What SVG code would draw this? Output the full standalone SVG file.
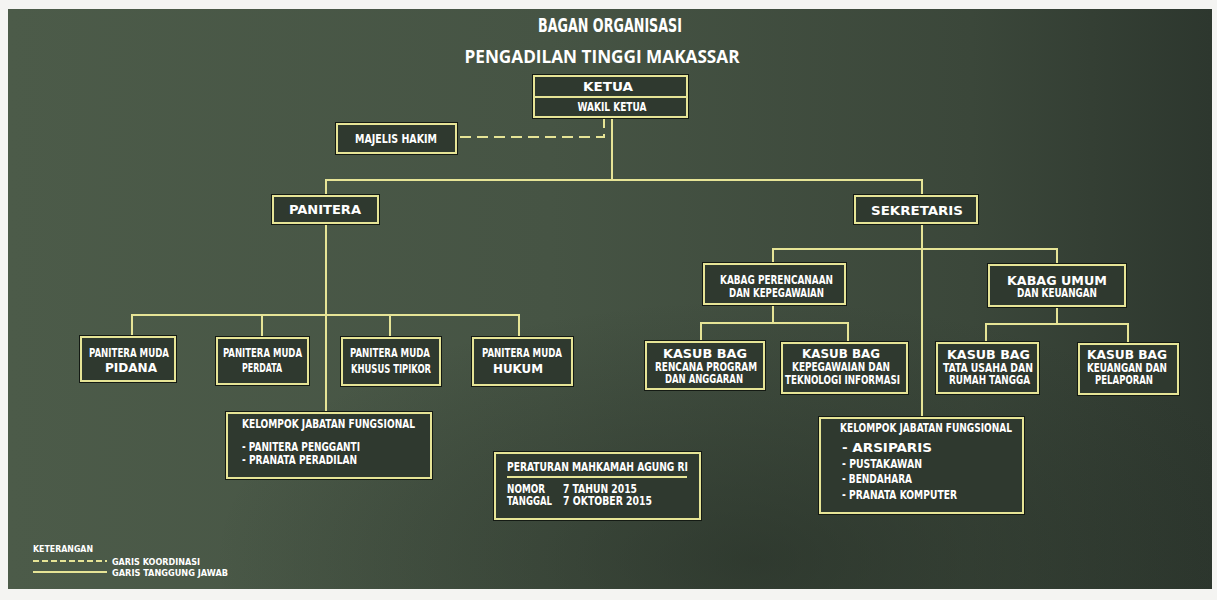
<svg xmlns="http://www.w3.org/2000/svg" width="1217" height="600" viewBox="0 0 1217 600">
<defs>
<linearGradient id="bg" x1="0" y1="0" x2="1" y2="0">
<stop offset="0" stop-color="#4c5b49"/>
<stop offset="0.45" stop-color="#465444"/>
<stop offset="0.8" stop-color="#3b473a"/>
<stop offset="1" stop-color="#2d372e"/>
</linearGradient>
<radialGradient id="shade" cx="0.62" cy="0.95" r="0.45">
<stop offset="0" stop-color="#1e261f" stop-opacity="0.5"/>
<stop offset="1" stop-color="#1e261f" stop-opacity="0"/>
</radialGradient>
<style>
.box{fill:#2f392f;stroke:#e6e496;stroke-width:2}
.sh{fill:none;stroke:#141a14;stroke-width:4}
.ln{fill:none;stroke:#e6e496;stroke-width:2}
.dash{stroke-dasharray:11 6}
.t{fill:#ffffff;font-family:"Liberation Sans Narrow","DejaVu Sans Condensed","Liberation Sans",sans-serif;font-weight:bold;font-size:12px;text-anchor:middle}
.l{text-anchor:start}
.h1{fill:#ffffff;font-family:"Liberation Sans Narrow","DejaVu Sans Condensed","Liberation Sans",sans-serif;font-weight:bold;font-size:19px;text-anchor:middle}
.h2{fill:#ffffff;font-family:"Open Sans","Liberation Sans",sans-serif;font-weight:bold;font-size:18px;text-anchor:middle}
.s{font-size:9px}
</style>
</defs>
<rect x="0" y="0" width="1217" height="600" fill="#f4f4f2"/>
<rect x="8" y="9" width="1204" height="580" fill="url(#bg)"/>
<rect x="8" y="9" width="1204" height="580" fill="url(#shade)"/>

<text class="h1" x="610" y="32" textLength="144" lengthAdjust="spacingAndGlyphs">BAGAN ORGANISASI</text>
<text class="h2" x="602" y="63" textLength="275" lengthAdjust="spacingAndGlyphs">PENGADILAN TINGGI MAKASSAR</text>

<g id="connectors">
<path class="ln dash" d="M604 117 V137 H456"/>
<path class="ln" d="M612 117 V180"/>
<path class="ln" d="M326 196 V180 H922 V196"/>
<path class="ln" d="M326 223 V413"/>
<path class="ln" d="M132 337 V315 H519 V338"/>
<path class="ln" d="M262 315 V338"/>
<path class="ln" d="M390 315 V338"/>
<path class="ln" d="M922 223 V418"/>
<path class="ln" d="M773 264 V249 H1057 V265"/>
<path class="ln" d="M773 304 V323"/>
<path class="ln" d="M701 342 V323 H848 V343"/>
<path class="ln" d="M1057 306 V324"/>
<path class="ln" d="M986 343 V324 H1128 V344"/>
</g>

<g id="ketua">
<rect class="sh" x="534" y="76" width="153" height="41"/>
<rect class="box" x="534" y="76" width="153" height="41"/>
<line class="ln" x1="534" y1="97" x2="687" y2="97"/>
<text class="t" x="608" y="91" textLength="50" lengthAdjust="spacingAndGlyphs">KETUA</text>
<text class="t" x="612" y="111" textLength="69" lengthAdjust="spacingAndGlyphs">WAKIL KETUA</text>
</g>

<g id="majelis-hakim">
<rect class="sh" x="337" y="124" width="119" height="29"/>
<rect class="box" x="337" y="124" width="119" height="29"/>
<text class="t" x="396" y="143" textLength="82" lengthAdjust="spacingAndGlyphs">MAJELIS HAKIM</text>
</g>

<g id="panitera">
<rect class="sh" x="273" y="196" width="105" height="27"/>
<rect class="box" x="273" y="196" width="105" height="27"/>
<text class="t" x="325" y="214" textLength="72" lengthAdjust="spacingAndGlyphs">PANITERA</text>
</g>

<g id="sekretaris">
<rect class="sh" x="855" y="196" width="122" height="27"/>
<rect class="box" x="855" y="196" width="122" height="27"/>
<text class="t" x="917" y="215" textLength="92" lengthAdjust="spacingAndGlyphs">SEKRETARIS</text>
</g>

<g id="pm-pidana">
<rect class="sh" x="81" y="337" width="94" height="44"/>
<rect class="box" x="81" y="337" width="94" height="44"/>
<text class="t" x="129" y="357" textLength="80" lengthAdjust="spacingAndGlyphs">PANITERA MUDA</text>
<text class="t" x="131" y="372" textLength="52" lengthAdjust="spacingAndGlyphs">PIDANA</text>
</g>

<g id="pm-perdata">
<rect class="sh" x="217" y="338" width="91" height="46"/>
<rect class="box" x="217" y="338" width="91" height="46"/>
<text class="t" x="262.5" y="357" textLength="79" lengthAdjust="spacingAndGlyphs">PANITERA MUDA</text>
<text class="t" x="262" y="372" textLength="40" lengthAdjust="spacingAndGlyphs">PERDATA</text>
</g>

<g id="pm-tipikor">
<rect class="sh" x="342" y="338" width="98" height="47"/>
<rect class="box" x="342" y="338" width="98" height="47"/>
<text class="t" x="390" y="357" textLength="80" lengthAdjust="spacingAndGlyphs">PANITERA MUDA</text>
<text class="t" x="391" y="373" textLength="80" lengthAdjust="spacingAndGlyphs">KHUSUS TIPIKOR</text>
</g>

<g id="pm-hukum">
<rect class="sh" x="473" y="338" width="99" height="47"/>
<rect class="box" x="473" y="338" width="99" height="47"/>
<text class="t" x="522" y="357" textLength="80" lengthAdjust="spacingAndGlyphs">PANITERA MUDA</text>
<text class="t" x="518" y="373" textLength="50" lengthAdjust="spacingAndGlyphs">HUKUM</text>
</g>

<g id="kelompok-panitera">
<rect class="sh" x="227" y="413" width="204" height="65"/>
<rect class="box" x="227" y="413" width="204" height="65"/>
<text class="t l" x="242" y="428" textLength="173" lengthAdjust="spacingAndGlyphs">KELOMPOK JABATAN FUNGSIONAL</text>
<text class="t l" x="242" y="451" textLength="118" lengthAdjust="spacingAndGlyphs">- PANITERA PENGGANTI</text>
<text class="t l" x="242" y="464" textLength="115" lengthAdjust="spacingAndGlyphs">- PRANATA PERADILAN</text>
</g>

<g id="peraturan">
<rect class="sh" x="495" y="453" width="205" height="66"/>
<rect class="box" x="495" y="453" width="205" height="66"/>
<text class="t l" x="507" y="471" textLength="181" lengthAdjust="spacingAndGlyphs">PERATURAN MAHKAMAH AGUNG RI</text>
<line class="ln" x1="507" y1="477" x2="687" y2="477"/>
<text class="t l" x="507" y="493" textLength="38" lengthAdjust="spacingAndGlyphs">NOMOR</text>
<text class="t l" x="563" y="493" textLength="74" lengthAdjust="spacingAndGlyphs">7 TAHUN 2015</text>
<text class="t l" x="507" y="505" textLength="45" lengthAdjust="spacingAndGlyphs">TANGGAL</text>
<text class="t l" x="563" y="505" textLength="89" lengthAdjust="spacingAndGlyphs">7 OKTOBER 2015</text>
</g>

<g id="kabag-perencanaan">
<rect class="sh" x="704" y="264" width="141" height="40"/>
<rect class="box" x="704" y="264" width="141" height="40"/>
<text class="t" x="776.5" y="284" textLength="113" lengthAdjust="spacingAndGlyphs">KABAG PERENCANAAN</text>
<text class="t" x="776.5" y="297" textLength="95" lengthAdjust="spacingAndGlyphs">DAN KEPEGAWAIAN</text>
</g>

<g id="kasubbag-rencana">
<rect class="sh" x="646" y="342" width="118" height="47"/>
<rect class="box" x="646" y="342" width="118" height="47"/>
<text class="t" x="705" y="358" textLength="84" lengthAdjust="spacingAndGlyphs">KASUB BAG</text>
<text class="t" x="706" y="371" textLength="102" lengthAdjust="spacingAndGlyphs">RENCANA PROGRAM</text>
<text class="t" x="704" y="383" textLength="78" lengthAdjust="spacingAndGlyphs">DAN ANGGARAN</text>
</g>

<g id="kasubbag-kepegawaian">
<rect class="sh" x="782" y="343" width="125" height="50"/>
<rect class="box" x="782" y="343" width="125" height="50"/>
<text class="t" x="841" y="358" textLength="78" lengthAdjust="spacingAndGlyphs">KASUB BAG</text>
<text class="t" x="841" y="371" textLength="98" lengthAdjust="spacingAndGlyphs">KEPEGAWAIAN DAN</text>
<text class="t" x="842.5" y="384" textLength="115" lengthAdjust="spacingAndGlyphs">TEKNOLOGI INFORMASI</text>
</g>

<g id="kabag-umum">
<rect class="sh" x="989" y="265" width="136" height="41"/>
<rect class="box" x="989" y="265" width="136" height="41"/>
<text class="t" x="1057" y="285" textLength="100" lengthAdjust="spacingAndGlyphs">KABAG UMUM</text>
<text class="t" x="1057" y="297" textLength="80" lengthAdjust="spacingAndGlyphs">DAN KEUANGAN</text>
</g>

<g id="kasubbag-tu">
<rect class="sh" x="937" y="343" width="101" height="50"/>
<rect class="box" x="937" y="343" width="101" height="50"/>
<text class="t" x="988.5" y="359" textLength="83" lengthAdjust="spacingAndGlyphs">KASUB BAG</text>
<text class="t" x="988" y="372" textLength="90" lengthAdjust="spacingAndGlyphs">TATA USAHA DAN</text>
<text class="t" x="989.5" y="384" textLength="81" lengthAdjust="spacingAndGlyphs">RUMAH TANGGA</text>
</g>

<g id="kasubbag-keuangan">
<rect class="sh" x="1079" y="344" width="99" height="50"/>
<rect class="box" x="1079" y="344" width="99" height="50"/>
<text class="t" x="1127" y="359" textLength="80" lengthAdjust="spacingAndGlyphs">KASUB BAG</text>
<text class="t" x="1127" y="372" textLength="80" lengthAdjust="spacingAndGlyphs">KEUANGAN DAN</text>
<text class="t" x="1124" y="384" textLength="58" lengthAdjust="spacingAndGlyphs">PELAPORAN</text>
</g>

<g id="kelompok-sekretaris">
<rect class="sh" x="820" y="418" width="203" height="95"/>
<rect class="box" x="820" y="418" width="203" height="95"/>
<text class="t l" x="840" y="432" textLength="172" lengthAdjust="spacingAndGlyphs">KELOMPOK JABATAN FUNGSIONAL</text>
<text class="t l" x="842" y="452" textLength="90" lengthAdjust="spacingAndGlyphs">- ARSIPARIS</text>
<text class="t l" x="842" y="468" textLength="80" lengthAdjust="spacingAndGlyphs">- PUSTAKAWAN</text>
<text class="t l" x="842" y="483" textLength="70" lengthAdjust="spacingAndGlyphs">- BENDAHARA</text>
<text class="t l" x="842" y="499" textLength="115" lengthAdjust="spacingAndGlyphs">- PRANATA KOMPUTER</text>
</g>

<g id="legend">
<text class="t l s" x="33" y="552" textLength="60" lengthAdjust="spacingAndGlyphs">KETERANGAN</text>
<line class="ln" x1="33" y1="561" x2="107" y2="561" style="stroke-dasharray:6 3"/>
<text class="t l s" x="112" y="565" textLength="88" lengthAdjust="spacingAndGlyphs">GARIS KOORDINASI</text>
<line class="ln" x1="33" y1="572" x2="107" y2="572"/>
<text class="t l s" x="112" y="576" textLength="116" lengthAdjust="spacingAndGlyphs">GARIS TANGGUNG JAWAB</text>
</g>
</svg>
